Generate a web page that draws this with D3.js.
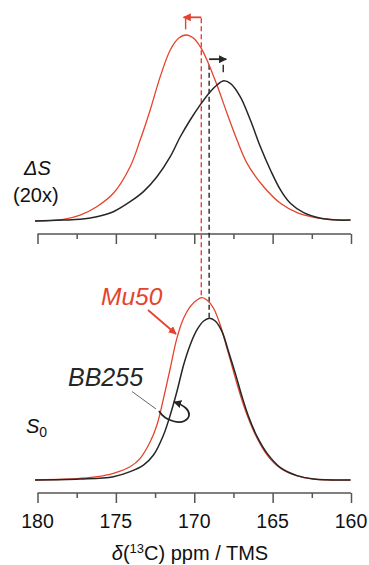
<!DOCTYPE html>
<html><head><meta charset="utf-8">
<script src="https://cdn.jsdelivr.net/npm/d3@7"></script>
<style>html,body{margin:0;padding:0;background:#fff}svg{display:block}</style>
</head><body><svg id="c" width="369" height="565"></svg>
<script>
// ---- data (ppm, intensity) ----
const topRedPpm = [180.16,178.35,177.28,176.22,175.16,174.09,173.45,172.81,172.17,171.53,171.0,170.51,170.04,169.62,169.19,168.55,167.91,167.27,166.63,165.57,164.5,163.44,162.38,161.31,160.03];
const topRedI   = [0.0,0.009,0.032,0.077,0.149,0.292,0.435,0.597,0.776,0.919,0.982,1.0,0.982,0.937,0.866,0.731,0.579,0.435,0.310,0.184,0.095,0.045,0.020,0.009,0.005];
const topBlkPpm = [180.16,178.35,177.28,176.22,175.16,174.09,173.24,172.38,171.53,170.89,170.26,169.62,168.98,168.55,168.17,167.7,167.06,166.42,165.78,165.14,164.5,163.87,163.02,161.95,160.88,160.03];
const topBlkI   = [0.0,0.005,0.009,0.023,0.050,0.104,0.158,0.238,0.346,0.453,0.543,0.624,0.695,0.731,0.753,0.740,0.668,0.543,0.399,0.274,0.167,0.095,0.045,0.015,0.005,0.005];
const botRedPpm = [180.16,178.35,177.28,176.22,175.16,174.09,173.45,172.81,172.38,171.96,171.53,171.11,170.68,170.26,169.83,169.51,169.19,168.77,168.34,167.91,167.49,167.06,166.63,165.99,165.35,164.5,163.44,162.38,161.31,160.03];
const botRedI   = [0.0,0.004,0.009,0.018,0.037,0.073,0.119,0.210,0.302,0.448,0.613,0.777,0.887,0.951,0.987,1.0,0.987,0.942,0.850,0.722,0.594,0.466,0.357,0.229,0.137,0.064,0.022,0.005,0.0,0.0];
const botBlkPpm = [180.16,177.28,175.16,174.09,173.24,172.6,171.96,171.53,171.11,170.68,170.26,169.83,169.4,169.02,168.66,168.23,167.81,167.38,166.95,166.53,165.99,165.35,164.5,163.44,162.38,160.03];
const botBlkI   = [0.0,0.005,0.018,0.046,0.082,0.137,0.247,0.357,0.484,0.631,0.741,0.823,0.872,0.887,0.872,0.814,0.704,0.585,0.457,0.347,0.238,0.146,0.068,0.024,0.005,0.0];
const tickValues = [180,175,170,165,160];
const minorTicks = [177.5,172.5,167.5,162.5];
const redShiftPpm = 169.55, blkShiftPpm = 169.05;
const redTopPeakPpm = 170.55, blkTopPeakPpm = 168.15;

const RED = "#e5432d", BLK = "#262626", AX = "#555";
const svg = d3.select("#c");
const FONT = "'Liberation Sans', Arial, Helvetica, sans-serif";

const x = d3.scaleLinear().domain([180,160]).range([37.5,351]);
const yTop = d3.scaleLinear().domain([0,1]).range([221,35]);
const yBot = d3.scaleLinear().domain([0,1]).range([480,297.7]);

function zip(a,b){return a.map((v,i)=>[v,b[i]]);}
function drawLine(pts, y, color, w){
  const line = d3.line().x(d=>x(d[0])).y(d=>y(d[1])).curve(d3.curveCatmullRom.alpha(0.5));
  svg.append("path").attr("d", line(pts)).attr("fill","none").attr("stroke",color).attr("stroke-width",w);
}

// arrow markers
const defs = svg.append("defs");
function marker(id,color,size){
  defs.append("marker").attr("id",id).attr("viewBox","0 0 10 10").attr("refX",9).attr("refY",5)
    .attr("markerWidth",size).attr("markerHeight",size).attr("orient","auto").attr("markerUnits","userSpaceOnUse")
    .append("path").attr("d","M0,0 L10,5 L0,10 z").attr("fill",color);
}
marker("ar",RED,8); marker("ab",BLK,8);

// axes
function axis(yPos){
  const g = svg.append("g").attr("transform",`translate(0,${yPos})`);
  const ax = d3.axisBottom(x).tickValues(tickValues).tickSize(10).tickFormat("");
  g.call(ax);
  g.select(".domain").attr("d",`M${x(180)},0H${x(160)}`);
  g.selectAll("path,line").attr("stroke",AX).attr("stroke-width",1.5);
  const g2 = svg.append("g").attr("transform",`translate(0,${yPos})`);
  g2.call(d3.axisBottom(x).tickValues(minorTicks).tickSize(5).tickFormat(""));
  g2.select(".domain").remove();
  g2.selectAll("line").attr("stroke",AX).attr("stroke-width",1.5);
  return g;
}
axis(234);
axis(493);
svg.append("g").selectAll("text").data(tickValues).join("text")
  .attr("x",d=>x(d)).attr("y",528).attr("text-anchor","middle")
  .attr("font-family",FONT).attr("font-size",19.5).attr("fill","#111").text(d=>d);

// dashed vertical lines
svg.append("line").attr("x1",x(redShiftPpm)).attr("x2",x(redShiftPpm)).attr("y1",yTop(1.09)).attr("y2",yBot(1.0))
  .attr("stroke",RED).attr("stroke-width",1.4).attr("stroke-dasharray","5,3");
svg.append("line").attr("x1",x(blkShiftPpm)).attr("x2",x(blkShiftPpm)).attr("y1",yTop(0.84)).attr("y2",yBot(0.887))
  .attr("stroke",BLK).attr("stroke-width",1.4).attr("stroke-dasharray","5,3");
svg.append("line").attr("x1",x(redTopPeakPpm)).attr("x2",x(redTopPeakPpm)).attr("y1",yTop(1.09)).attr("y2",yTop(1.03))
  .attr("stroke",RED).attr("stroke-width",1.4);
svg.append("line").attr("x1",x(blkTopPeakPpm)).attr("x2",x(blkTopPeakPpm)).attr("y1",yTop(0.84)).attr("y2",yTop(0.80))
  .attr("stroke",BLK).attr("stroke-width",1.4);
// shift arrows
svg.append("line").attr("x1",x(redShiftPpm)).attr("x2",x(redTopPeakPpm)-2).attr("y1",yTop(1.095)).attr("y2",yTop(1.095))
  .attr("stroke",RED).attr("stroke-width",1.8).attr("marker-end","url(#ar)");
svg.append("line").attr("x1",x(blkShiftPpm)).attr("x2",x(blkTopPeakPpm)+3).attr("y1",yTop(0.87)).attr("y2",yTop(0.87))
  .attr("stroke",BLK).attr("stroke-width",1.8).attr("marker-end","url(#ab)");

// curves
drawLine(zip(topRedPpm,topRedI), yTop, RED, 1.3);
drawLine(zip(topBlkPpm,topBlkI), yTop, BLK, 1.5);
drawLine(zip(botRedPpm,botRedI), yBot, RED, 1.3);
drawLine(zip(botBlkPpm,botBlkI), yBot, BLK, 1.5);

// labels
const t1 = svg.append("text").attr("x",24).attr("y",175).attr("font-family",FONT).attr("font-size",20).attr("fill","#111");
t1.append("tspan").attr("font-style","italic").text("ΔS");
svg.append("text").attr("x",13).attr("y",202).attr("font-family",FONT).attr("font-size",20).attr("fill","#111").text("(20x)");
const s0 = svg.append("text").attr("x",26).attr("y",433).attr("font-family",FONT).attr("font-size",20).attr("fill","#111");
s0.append("tspan").attr("font-style","italic").text("S");
s0.append("tspan").attr("font-size",14).attr("dy",4).text("0");
svg.append("text").attr("x",101).attr("y",305).attr("font-family",FONT).attr("font-size",24.5).attr("font-style","italic").attr("fill",RED).text("Mu50");
svg.append("text").attr("x",68).attr("y",386).attr("font-family",FONT).attr("font-size",25).attr("font-style","italic").attr("fill",BLK).text("BB255");
// Mu50 pointer
svg.append("line").attr("x1",148).attr("y1",310).attr("x2",176).attr("y2",334).attr("stroke",RED).attr("stroke-width",1.8).attr("marker-end","url(#ar)");
// BB255 pointer
svg.append("line").attr("x1",132).attr("y1",391.5).attr("x2",156).attr("y2",409).attr("stroke","#666").attr("stroke-width",1);
svg.append("path").attr("d","M159,411 C165,421 182,426 188,418 C192,411 184,405 174,402")
  .attr("fill","none").attr("stroke",BLK).attr("stroke-width",1.8).attr("marker-end","url(#ab)");

// x title
const xt = svg.append("text").attr("x",190).attr("y",560).attr("text-anchor","middle").attr("font-family",FONT).attr("font-size",20).attr("fill","#111");
xt.append("tspan").attr("font-style","italic").text("δ");
xt.append("tspan").text("(");
xt.append("tspan").attr("font-size",13).attr("dy",-7).text("13");
xt.append("tspan").attr("dy",7).text("C) ppm / TMS");
</script></body></html>
